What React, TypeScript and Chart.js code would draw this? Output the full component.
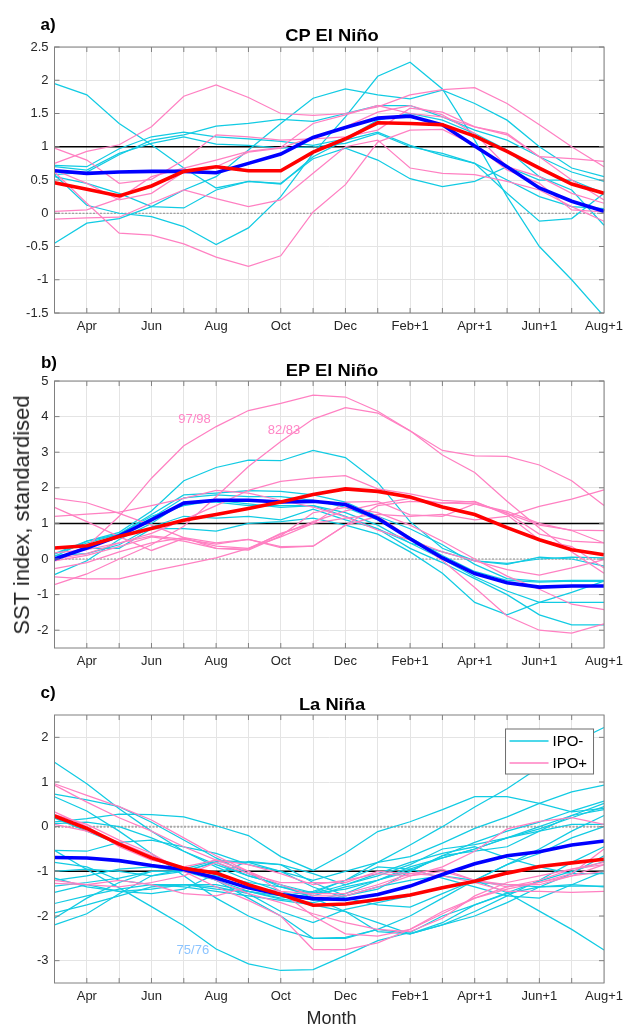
import React, { useEffect, useRef } from "react";
import { Chart, registerables } from "chart.js";

Chart.register(...registerables);

const FONT = "'Liberation Sans', Arial, Helvetica, sans-serif";
Chart.defaults.font.family = FONT;

// ---------- shared categories ----------
const MONTHS = ["Mar", "Apr", "May", "Jun", "Jul", "Aug", "Sep", "Oct", "Nov", "Dec", "Jan+1", "Feb+1", "Mar+1", "Apr+1", "May+1", "Jun+1", "Jul+1", "Aug+1"];
const LABELED_MONTHS = ["Apr", "Jun", "Aug", "Oct", "Dec", "Feb+1", "Apr+1", "Jun+1", "Aug+1"];
const LEGEND_LABELS = ["IPO-", "IPO+"];

// ---------- a) CP El Niño ----------
const CP_Y_TICKS = [-1.5, -1, -0.5, 0, 0.5, 1, 1.5, 2, 2.5];
const CP_MEAN_IPO_NEG = [0.64, 0.60, 0.62, 0.63, 0.63, 0.61, 0.75, 0.89, 1.14, 1.29, 1.43, 1.46, 1.33, 1.01, 0.70, 0.38, 0.18, 0.03];
const CP_MEAN_IPO_POS = [0.46, 0.36, 0.26, 0.41, 0.63, 0.70, 0.64, 0.64, 0.92, 1.12, 1.36, 1.35, 1.33, 1.16, 0.93, 0.68, 0.44, 0.30];
const CP_IPO_NEG = [
  [1.95, 1.78, 1.35, 1.03, 0.68, 0.38, 0.48, 0.44, 0.85, 1.1, 1.22, 1.02, 0.87, 0.75, 0.5, 0.25, 0.1, 0.07],
  [0.72, 0.70, 0.97, 1.15, 1.22, 1.15, 1.12, 1.08, 1.02, 1.12, 1.4, 1.5, 1.4, 1.2, 0.95, 0.55, 0.35, -0.18],
  [0.58, 0.62, 0.88, 1.1, 1.18, 1.31, 1.35, 1.41, 1.38, 1.5, 1.62, 1.62, 1.45, 1.25, 1.1, 0.85, 0.62, 0.48],
  [0.58, 0.12, 0.0, -0.05, -0.2, -0.47, -0.22, 0.25, 0.9, 1.45, 2.06, 2.27, 1.87, 1.1, 0.25, -0.5, -1.0, -1.55],
  [-0.45, -0.15, -0.08, 0.1, 0.35, 0.55, 0.95, 1.35, 1.73, 1.87, 1.78, 1.72, 1.85, 1.65, 1.4, 1.0, 0.68, 0.55],
  [0.55, 0.45, 0.3, 0.1, 0.08, 0.35, 0.48, 0.45, 0.82, 0.98, 0.8, 0.52, 0.4, 0.48, 0.7, 0.5, 0.5, 0.3],
  [0.7, 0.65, 0.9, 1.05, 1.15, 1.04, 1.02, 0.98, 1.0, 1.05, 1.2, 1.0, 0.9, 0.75, 0.3, -0.12, -0.08, 0.3],
];
const CP_IPO_POS = [
  [0.75, 0.93, 1.03, 1.3, 1.76, 1.93, 1.74, 1.5, 1.47, 1.5, 1.6, 1.78, 1.86, 1.89, 1.65, 1.33, 1.0, 0.7],
  [0.98, 0.8, 0.45, 0.51, 0.8, 1.18, 1.15, 1.1, 1.12, 1.15, 1.25, 1.58, 1.52, 1.3, 1.18, 0.85, 0.82, 0.78],
  [0.62, 0.15, -0.3, -0.33, -0.46, -0.66, -0.8, -0.64, 0.02, 0.43, 1.07, 1.25, 1.26, 1.02, 0.65, 0.45, 0.05, 0.02],
  [0.03, 0.05, 0.22, 0.55, 0.68, 0.8, 0.93, 0.99, 1.35, 1.48, 1.62, 1.5, 1.45, 1.3, 1.2, 0.85, 0.5, 0.2],
  [-0.09, -0.07, -0.06, 0.15, 0.35, 0.22, 0.1, 0.2, 0.6, 1.0, 1.1, 0.68, 0.6, 0.58, 0.48, 0.35, 0.1, -0.12],
  [0.65, 0.45, 0.2, 0.3, 0.62, 0.7, 0.92, 0.98, 1.15, 1.3, 1.52, 1.62, 1.48, 1.2, 0.7, 0.55, 0.3, 0.15],
];

// ---------- b) EP El Niño ----------
const EP_Y_TICKS = [-2, -1, 0, 1, 2, 3, 4, 5];
const EP_MEAN_IPO_NEG = [0.0, 0.31, 0.65, 1.1, 1.57, 1.65, 1.65, 1.6, 1.62, 1.53, 1.14, 0.57, 0.03, -0.41, -0.67, -0.79, -0.76, -0.76];
const EP_MEAN_IPO_POS = [0.31, 0.37, 0.63, 0.86, 1.09, 1.25, 1.42, 1.6, 1.81, 1.97, 1.9, 1.74, 1.46, 1.25, 0.88, 0.54, 0.26, 0.12];
const EP_IPO_NEG = [
  [0.07, 0.5, 0.75, 1.35, 2.2, 2.57, 2.78, 2.76, 3.05, 2.85, 2.15, 1.05, 0.3, -0.05, -0.15, 0.05, 0.0, -0.2],
  [0.14, 0.45, 0.7, 1.25, 1.8, 1.85, 1.92, 1.9, 1.8, 1.6, 1.2, 0.85, 0.4, -0.15, -0.55, -0.62, -0.6, -0.6],
  [-0.02, 0.35, 0.65, 1.15, 1.72, 1.8, 1.75, 1.75, 1.65, 1.45, 1.1, 0.6, 0.1, -0.35, -0.6, -0.65, -0.62, -0.63],
  [-0.44, -0.05, 0.55, 1.0, 1.6, 1.6, 1.5, 1.5, 1.5, 1.3, 0.95, 0.45, 0.0, -0.5, -0.9, -1.22, -1.22, -1.22],
  [0.1, 0.15, 0.4, 0.9, 1.2, 1.15, 1.2, 1.1, 1.4, 1.1, 0.85, 0.3, -0.1, -0.55, -1.0, -1.57, -1.85, -1.85],
  [0.0, 0.3, 0.3, 0.85, 0.85, 0.78, 1.0, 1.05, 1.15, 0.95, 0.7, 0.2, -0.4, -1.22, -1.57, -1.22, -0.94, -0.62],
  [0.15, 0.5, 0.7, 1.2, 1.5, 1.65, 1.55, 1.45, 1.5, 1.2, 0.85, 0.45, 0.2, -0.05, -0.12, 0.0, 0.05, 0.03],
];
const EP_IPO_POS = [
  [0.0, 0.35, 1.2, 2.27, 3.18, 3.72, 4.17, 4.37, 4.6, 4.55, 4.15, 3.6, 3.05, 2.9, 2.88, 2.64, 2.2, 1.5],
  [-0.72, -0.42, 0.0, 0.4, 0.92, 1.75, 2.6, 3.3, 3.93, 4.25, 4.1, 3.6, 2.92, 2.43, 1.62, 0.87, 0.2, -0.4],
  [0.17, 0.26, 0.45, 0.72, 1.1, 1.5, 1.93, 2.18, 2.28, 2.34, 1.97, 1.83, 1.65, 1.6, 1.28, 0.95, 0.81, 0.8],
  [1.7, 1.58, 1.28, 0.95, 0.6, 0.45, 0.55, 0.32, 0.36, 0.95, 1.5, 1.62, 1.58, 1.55, 1.3, 0.7, 0.5, 0.45],
  [1.45, 1.05, 0.63, 0.24, 0.58, 0.36, 0.3, 0.7, 1.05, 1.35, 1.55, 1.7, 1.57, 1.62, 1.24, 0.54, 0.35, -0.25],
  [1.2, 1.26, 1.32, 1.5, 1.7, 1.93, 1.85, 1.65, 1.46, 1.18, 0.81, 0.54, 0.2, -0.05, -0.3, -0.45, -0.25, -0.02],
  [-0.27, -0.1, 0.2, 0.45, 0.6, 0.3, 0.28, 0.72, 1.0, 1.6, 1.62, 1.24, 1.2, 1.55, 1.34, 1.0, 0.8, 0.45],
  [-0.5, -0.56, -0.56, -0.34, -0.16, 0.03, 0.3, 0.62, 1.0, 1.15, 1.25, 1.2, 1.25, 1.1, 1.2, 1.48, 1.68, 1.94],
  [0.0, 0.15, 0.45, 0.65, 0.55, 0.42, 0.55, 0.35, 0.36, 0.95, 1.2, 0.6, -0.04, -0.8, -1.6, -2.0, -2.08, -1.82],
  [-0.05, 0.1, 0.35, 0.62, 0.5, 0.3, 0.25, 0.65, 1.3, 1.45, 1.3, 0.95, 0.5, 0.0, -0.48, -0.85, -1.27, -1.42],
];
const EP_NOTES = [
  { text: "97/98", month: 4.33, value: 3.93 },
  { text: "82/83", month: 7.1, value: 3.62 },
];

// ---------- c) La Niña ----------
const LN_Y_TICKS = [-3, -2, -1, 0, 1, 2];
const LN_MEAN_IPO_NEG = [-0.69, -0.70, -0.76, -0.87, -0.96, -1.15, -1.37, -1.52, -1.61, -1.63, -1.52, -1.33, -1.07, -0.83, -0.65, -0.56, -0.41, -0.32];
const LN_MEAN_IPO_POS = [0.24, -0.04, -0.39, -0.70, -0.93, -1.04, -1.30, -1.52, -1.76, -1.73, -1.63, -1.53, -1.37, -1.22, -1.04, -0.89, -0.81, -0.73];
const LN_IPO_NEG = [
  [1.44, 0.96, 0.4, -0.1, -0.55, -0.9, -1.2, -1.45, -1.65, -1.5, -1.2, -0.95, -0.7, -0.5, -0.25, -0.05, 0.2, 0.45],
  [0.73, 0.6, 0.45, 0.1, -0.3, -0.7, -1.05, -1.35, -1.55, -1.35, -1.2, -1.0, -0.65, -0.35, -0.1, 0.1, 0.35, 0.57],
  [0.67, 0.35, -0.1, -0.6, -1.1, -1.6, -2.0, -2.3, -2.5, -2.5, -2.3, -2.0, -1.6, -1.2, -0.85, -0.5, -0.1, 0.25],
  [0.11, 0.18, 0.28, 0.27, 0.22, 0.02, -0.2, -0.67, -0.98, -0.59, -0.11, 0.11, 0.38, 0.67, 0.67, 0.52, 0.33, 0.41],
  [-0.53, -0.96, -1.37, -1.79, -2.22, -2.74, -3.07, -3.22, -3.2, -2.88, -2.55, -2.37, -2.0, -1.75, -1.48, -1.22, -1.0, -0.78],
  [0.07, 0.1, 0.0, -0.25, -0.55, -0.85, -1.1, -1.3, -1.48, -1.2, -0.8, -0.41, 0.0, 0.44, 0.85, 1.33, 1.87, 2.22],
  [-0.53, -0.55, -0.35, -0.3, -0.45, -0.6, -0.85, -1.0, -1.35, -1.6, -1.75, -1.8, -1.5, -1.2, -0.85, -0.6, -0.25, 0.0],
  [-1.0, -0.95, -1.0, -1.1, -0.95, -0.75, -0.8, -1.0, -1.2, -1.0, -0.8, -0.67, -0.37, -0.04, 0.22, 0.52, 0.78, 0.93],
  [-1.2, -1.1, -0.95, -0.9, -1.0, -0.78, -0.8, -0.85, -1.25, -1.55, -1.4, -1.0, -0.65, -0.55, -0.45, -0.1, 0.25, 0.52],
  [-1.33, -1.25, -1.15, -1.0, -1.0, -1.1, -1.25, -1.35, -1.5, -1.4, -1.2, -0.9, -0.7, -0.5, -0.25, 0.0, 0.25, 0.38],
  [-1.47, -1.3, -1.45, -1.5, -1.4, -1.05, -0.78, -0.85, -1.05, -1.3, -1.05, -0.8, -0.6, -0.45, -0.7, -0.9, -1.05, -1.05],
  [-1.72, -1.55, -1.4, -1.3, -1.35, -1.45, -1.55, -1.65, -1.75, -1.9, -2.15, -2.4, -2.2, -1.9, -1.55, -1.2, -0.8, -0.45],
  [-1.93, -1.75, -1.55, -1.35, -1.3, -1.35, -1.5, -1.9, -2.15, -1.85, -1.7, -1.55, -1.35, -1.25, -1.3, -1.35, -1.33, -1.33],
  [-2.05, -1.6, -1.25, -1.0, -1.0, -1.2, -1.6, -2.0, -2.5, -2.48, -2.3, -2.4, -2.15, -1.75, -1.5, -1.35, -1.3, -1.35],
  [-2.2, -1.95, -1.5, -1.1, -1.0, -0.8, -1.1, -1.3, -1.6, -1.9, -2.35, -2.4, -2.2, -2.0, -1.7, -1.35, -1.05, -0.65],
  [0.19, -0.1, -0.4, -0.7, -0.95, -1.2, -1.45, -1.62, -1.7, -1.55, -1.35, -1.2, -1.1, -1.2, -1.48, -1.89, -2.3, -2.76],
  [-0.8, -0.9, -1.2, -1.3, -1.3, -1.3, -1.45, -1.55, -1.45, -1.2, -0.9, -0.95, -1.15, -1.35, -1.55, -1.6, -1.3, -1.0],
  [-1.15, -1.35, -1.45, -1.4, -1.3, -1.4, -1.45, -1.6, -1.5, -1.3, -1.1, -0.85, -0.5, -0.4, -0.25, -0.1, 0.05, 0.05],
];
const LN_IPO_POS = [
  [0.96, 0.7, 0.45, 0.15, -0.25, -0.65, -1.0, -1.3, -1.55, -1.55, -1.35, -1.1, -0.9, -0.55, -0.05, 0.12, 0.2, 0.05],
  [0.93, 0.55, 0.2, -0.1, -0.45, -0.75, -1.0, -1.45, -2.0, -2.4, -2.45, -2.3, -1.95, -1.6, -1.4, -1.25, -1.05, -0.5],
  [0.33, 0.0, -0.45, -0.75, -0.9, -0.75, -0.85, -1.05, -1.3, -1.2, -1.05, -1.1, -1.0, -1.2, -1.35, -1.25, -1.1, -0.85],
  [0.27, 0.05, -0.3, -0.6, -1.0, -1.35, -1.65, -2.0, -2.75, -2.75, -2.6, -2.3, -1.9, -1.6, -1.35, -1.2, -0.95, -0.8],
  [0.05, -0.1, -0.35, -0.65, -0.95, -1.2, -1.5, -1.7, -1.95, -2.15, -2.3, -2.35, -2.05, -1.55, -1.25, -1.1, -0.95, -0.85],
  [-1.2, -1.3, -1.35, -1.25, -1.1, -0.8, -1.05, -1.25, -1.25, -1.25, -1.0, -1.05, -1.1, -1.25, -1.45, -1.45, -1.47, -1.45],
  [-1.27, -1.3, -1.2, -1.3, -1.5, -1.55, -1.35, -1.45, -1.5, -1.5, -1.3, -1.05, -0.95, -1.2, -1.3, -1.3, -1.1, -1.0],
];
const LN_NOTES = [{ text: "75/76", month: 4.28, value: -2.78 }];

// ---------- styles ----------
const W = 629;
const AREA_LEFT = 54.5;
const AREA_RIGHT = 608.5;
const X_AXIS_H = 20;
const CYAN = "#12cbe3";
const PINK = "#ff80c2";
const BLUE = "#0000ff";
const RED = "#ff0000";
const GRID = "#e4e4e4";
const FRAME = "#808080";
const TICK_TEXT = "#262626";

type Note = { text: string; month: number; value: number };
type PanelProps = {
  top: number;
  height: number;
  areaTop: number;
  areaBottom: number;
  yMin: number;
  yMax: number;
  yTicks: number[];
  refValue: number;
  neg: number[][];
  pos: number[][];
  meanNeg: number[];
  meanPos: number[];
  notes: Note[];
  noteColor: string;
  zeroColor: string;
  zeroWidth: number;
  legend?: boolean;
};

function Panel(p: PanelProps) {
  const ref = useRef<HTMLCanvasElement | null>(null);
  useEffect(() => {
    const canvas = ref.current;
    if (!canvas) return;
    const thin = (d: number[], color: string, order: number) => ({
      data: d, borderColor: color, borderWidth: 1.25, pointRadius: 0, tension: 0, fill: false, order,
    });
    const datasets: any[] = [
      { data: p.meanPos, borderColor: RED, borderWidth: 3.6, pointRadius: 0, tension: 0, fill: false, order: 0 },
      { data: p.meanNeg, borderColor: BLUE, borderWidth: 3.6, pointRadius: 0, tension: 0, fill: false, order: 1 },
      ...p.pos.map((d) => thin(d, PINK, 2)),
      ...p.neg.map((d) => thin(d, CYAN, 3)),
    ];
    const frame = {
      id: "frame",
      beforeDatasetsDraw(chart: any) {
        const { ctx, chartArea: a, scales } = chart;
        const y = scales.y;
        ctx.save();
        const y0 = y.getPixelForValue(0);
        ctx.strokeStyle = p.zeroColor;
        ctx.lineWidth = p.zeroWidth;
        ctx.setLineDash([2, 1.5]);
        ctx.beginPath();
        ctx.moveTo(a.left, y0);
        ctx.lineTo(a.right, y0);
        ctx.stroke();
        ctx.setLineDash([]);
        const y1 = y.getPixelForValue(p.refValue);
        ctx.strokeStyle = "#000";
        ctx.lineWidth = 1.5;
        ctx.beginPath();
        ctx.moveTo(a.left, y1);
        ctx.lineTo(a.right, y1);
        ctx.stroke();
        ctx.restore();
      },
      afterDraw(chart: any) {
        const { ctx, chartArea: a, scales } = chart;
        const x = scales.x;
        const y = scales.y;
        ctx.save();
        ctx.strokeStyle = FRAME;
        ctx.lineWidth = 1;
        ctx.beginPath();
        for (let i = 1; i < MONTHS.length - 1; i++) {
          const px = x.getPixelForValue(i);
          ctx.moveTo(px, a.bottom);
          ctx.lineTo(px, a.bottom - 5);
          ctx.moveTo(px, a.top);
          ctx.lineTo(px, a.top + 5);
        }
        for (const v of p.yTicks) {
          const py = y.getPixelForValue(v);
          ctx.moveTo(a.left, py);
          ctx.lineTo(a.left + 5, py);
          ctx.moveTo(a.right, py);
          ctx.lineTo(a.right - 5, py);
        }
        ctx.stroke();
        ctx.strokeRect(a.left, a.top, a.right - a.left, a.bottom - a.top);
        ctx.font = `13px ${FONT}`;
        ctx.fillStyle = p.noteColor;
        ctx.textAlign = "center";
        ctx.textBaseline = "middle";
        for (const n of p.notes) {
          ctx.fillText(n.text, x.getPixelForValue(n.month), y.getPixelForValue(n.value));
        }
        if (p.legend) {
          const bx = a.right - 98.5;
          const by = a.top + 14;
          const bw = 88;
          const bh = 45;
          ctx.fillStyle = "#fff";
          ctx.fillRect(bx, by, bw, bh);
          ctx.strokeStyle = "#6e6e6e";
          ctx.lineWidth = 1;
          ctx.strokeRect(bx, by, bw, bh);
          const rows = [
            { label: LEGEND_LABELS[0], color: CYAN, yy: by + 12 },
            { label: LEGEND_LABELS[1], color: PINK, yy: by + 34 },
          ];
          ctx.font = `15px ${FONT}`;
          ctx.textAlign = "left";
          ctx.textBaseline = "middle";
          for (const r of rows) {
            ctx.strokeStyle = r.color;
            ctx.lineWidth = 1.4;
            ctx.beginPath();
            ctx.moveTo(bx + 4, r.yy);
            ctx.lineTo(bx + 43, r.yy);
            ctx.stroke();
            ctx.fillStyle = "#000";
            ctx.fillText(r.label, bx + 47, r.yy + 1);
          }
        }
        ctx.restore();
      },
    };
    const chart = new Chart(canvas, {
      type: "line",
      data: { labels: MONTHS, datasets },
      options: {
        responsive: false,
        animation: false,
        devicePixelRatio: 1,
        events: [],
        layout: {
          padding: { left: 0, right: W - AREA_RIGHT, top: p.areaTop, bottom: p.height - p.areaBottom - X_AXIS_H },
        },
        plugins: { legend: { display: false }, tooltip: { enabled: false }, title: { display: false } },
        scales: {
          x: {
            type: "category",
            offset: false,
            grid: { color: GRID, lineWidth: 1, drawTicks: false },
            border: { display: false },
            ticks: {
              autoSkip: false,
              maxRotation: 0,
              minRotation: 0,
              padding: 6,
              color: TICK_TEXT,
              font: { size: 13, family: FONT },
              callback: (_v: any, i: number) => (LABELED_MONTHS.includes(MONTHS[i]) ? MONTHS[i] : ""),
            },
            afterFit: (s: any) => {
              s.height = X_AXIS_H;
            },
          },
          y: {
            type: "linear",
            min: p.yMin,
            max: p.yMax,
            afterBuildTicks: (s: any) => {
              s.ticks = p.yTicks.map((v) => ({ value: v }));
            },
            grid: { color: GRID, lineWidth: 1, drawTicks: false },
            border: { display: false },
            ticks: {
              padding: 6,
              color: TICK_TEXT,
              font: { size: 13, family: FONT },
              callback: (v: any) => String(v),
            },
            afterFit: (s: any) => {
              s.width = AREA_LEFT;
            },
          },
        },
      } as any,
      plugins: [frame],
    });
    return () => chart.destroy();
  }, []);
  return (
    <canvas
      ref={ref}
      width={W}
      height={p.height}
      style={{ position: "absolute", left: 0, top: p.top, width: W, height: p.height }}
    />
  );
}

function Txt(props: { x: number; y: number; size: number; bold?: boolean; rotate?: boolean; stretch?: number; color?: string; children: any }) {
  const extra = props.rotate ? " rotate(-90deg)" : props.stretch ? ` scaleX(${props.stretch})` : "";
  return (
    <div
      style={{
        position: "absolute",
        left: props.x,
        top: props.y,
        transform: `translate(-50%, -50%)${extra}`,
        fontSize: props.size,
        fontWeight: props.bold ? 700 : 400,
        lineHeight: 1,
        whiteSpace: "nowrap",
        color: props.color || "#000",
        fontFamily: FONT,
      }}
    >
      {props.children}
    </div>
  );
}

export default function App() {
  const cx = (AREA_LEFT + AREA_RIGHT) / 2;
  return (
    <div style={{ position: "absolute", left: 0, top: 0, width: W, height: 1026, background: "#fff", overflow: "hidden" }}>
      <Panel
        top={0}
        height={345}
        areaTop={47}
        areaBottom={313}
        yMin={-1.5}
        yMax={2.5}
        yTicks={CP_Y_TICKS}
        refValue={1}
        neg={CP_IPO_NEG}
        pos={CP_IPO_POS}
        meanNeg={CP_MEAN_IPO_NEG}
        meanPos={CP_MEAN_IPO_POS}
        notes={[]}
        noteColor={PINK}
        zeroColor="#8a8a8a"
        zeroWidth={1}
      />
      <Panel
        top={345}
        height={335}
        areaTop={36}
        areaBottom={303}
        yMin={-2.5}
        yMax={5}
        yTicks={EP_Y_TICKS}
        refValue={1}
        neg={EP_IPO_NEG}
        pos={EP_IPO_POS}
        meanNeg={EP_MEAN_IPO_NEG}
        meanPos={EP_MEAN_IPO_POS}
        notes={EP_NOTES}
        noteColor="#ff86c6"
        zeroColor="#8a8a8a"
        zeroWidth={1}
      />
      <Panel
        top={680}
        height={346}
        areaTop={35}
        areaBottom={303}
        yMin={-3.5}
        yMax={2.5}
        yTicks={LN_Y_TICKS}
        refValue={-1}
        neg={LN_IPO_NEG}
        pos={LN_IPO_POS}
        meanNeg={LN_MEAN_IPO_NEG}
        meanPos={LN_MEAN_IPO_POS}
        notes={LN_NOTES}
        noteColor="#8cc4ff"
        zeroColor="#a8a8a8"
        zeroWidth={2}
        legend
      />
      <Txt x={48} y={24} size={17} bold>a)</Txt>
      <Txt x={cx} y={35} size={16.5} bold stretch={1.11}>CP El Niño</Txt>
      <Txt x={49} y={362} size={17} bold>b)</Txt>
      <Txt x={cx} y={370} size={16.5} bold stretch={1.11}>EP El Niño</Txt>
      <Txt x={48} y={692} size={17} bold>c)</Txt>
      <Txt x={cx} y={704} size={16.5} bold stretch={1.11}>La Niña</Txt>
      <Txt x={22} y={515} size={22} rotate color={TICK_TEXT}>SST index, standardised</Txt>
      <Txt x={cx} y={1018} size={18} color={TICK_TEXT}>Month</Txt>
    </div>
  );
}
